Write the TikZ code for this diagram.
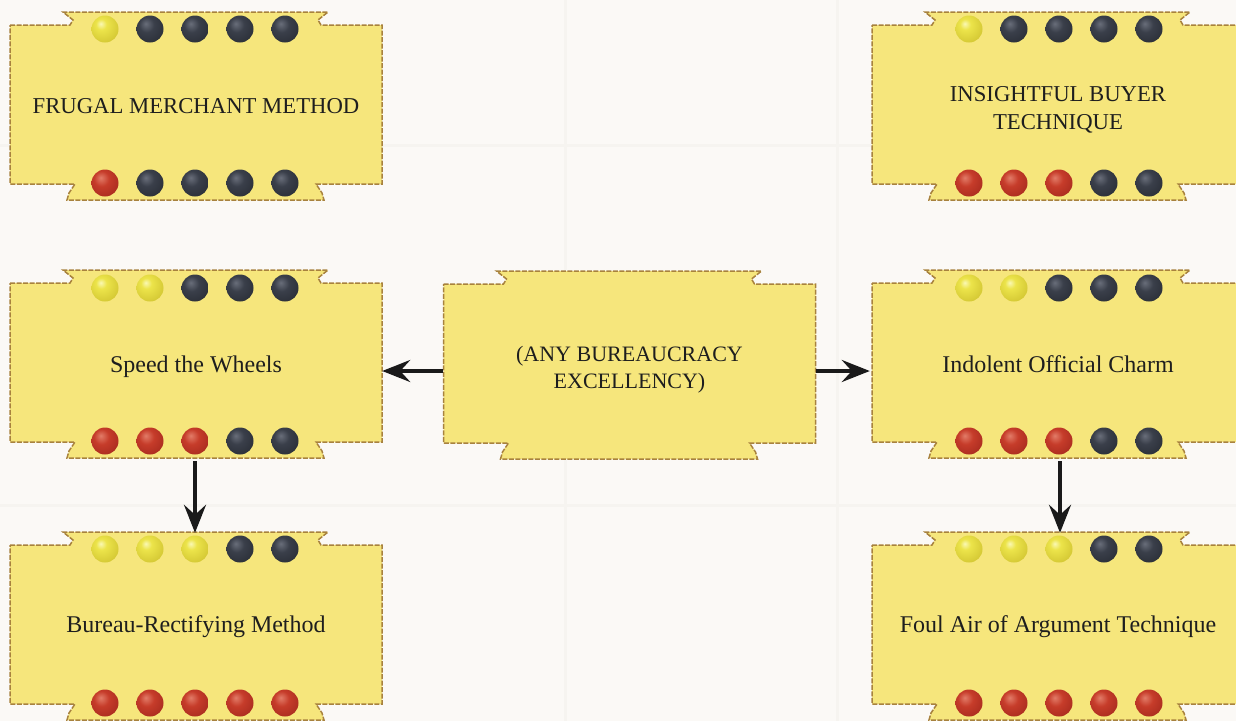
\documentclass[tikz,border=0pt]{standalone}
\usepackage{fontspec}
\setmainfont{Liberation Serif}
\usetikzlibrary{arrows.meta}
\definecolor{bg}{RGB}{251,249,246}
\definecolor{boxfill}{RGB}{246,230,124}
\definecolor{boxedge}{RGB}{168,130,62}
\definecolor{ink}{RGB}{30,30,30}
\definecolor{faint}{RGB}{246,244,240}
\definecolor{arrowink}{RGB}{26,26,26}
% bead colours
\definecolor{yHi}{RGB}{250,248,180}
\definecolor{yMid}{RGB}{236,228,74}
\definecolor{yLow}{RGB}{212,200,52}
\definecolor{yRim}{RGB}{132,122,30}
\definecolor{rHi}{RGB}{226,124,104}
\definecolor{rMid}{RGB}{198,60,42}
\definecolor{rLow}{RGB}{166,42,30}
\definecolor{rRim}{RGB}{92,22,16}
\definecolor{dHi}{RGB}{105,110,122}
\definecolor{dMid}{RGB}{58,63,74}
\definecolor{dLow}{RGB}{40,44,52}
\definecolor{dRim}{RGB}{18,20,24}

\pgfdeclareradialshading{beadY}{\pgfpoint{-8bp}{10bp}}{color(0bp)=(yHi); color(10bp)=(yMid); color(32bp)=(yLow); color(48bp)=(yRim); color(70bp)=(yRim)}
\pgfdeclareradialshading{beadR}{\pgfpoint{-8bp}{10bp}}{color(0bp)=(rHi); color(14bp)=(rMid); color(36bp)=(rLow); color(52bp)=(rRim); color(70bp)=(rRim)}
\pgfdeclareradialshading{beadD}{\pgfpoint{-8bp}{10bp}}{color(0bp)=(dHi); color(14bp)=(dMid); color(38bp)=(dLow); color(56bp)=(dRim); color(70bp)=(dRim)}

\tikzset{
  ribbonline/.style={fill=boxfill, draw=boxedge, line width=1.5pt, dash pattern=on 5pt off 1.5pt, line join=miter},
  capslbl/.style={text=ink, font=\fontsize{22.7}{28}\selectfont, align=center,
              minimum width=372pt, minimum height=188pt, inner sep=0pt},
  lbl/.style={capslbl, font=\fontsize{24}{28}\selectfont, text height=16pt, text depth=5pt},
  arr/.style={draw=arrowink, line width=4pt,
              -{Stealth[length=28pt,width=22pt,inset=10pt]}}
}

\newcommand{\ribbon}[2]{%
  \filldraw[ribbonline] ({#1-186},{#2}) -- ({#1-126},{#2}) -- ({#1-123},{#2-5})
   -- ({#1-133},{#2-13}) -- ({#1+132},{#2-13}) -- ({#1+122},{#2-5}) -- ({#1+125},{#2})
   -- ({#1+186},{#2}) -- ({#1+186},{#2+159}) -- ({#1+120},{#2+159}) -- ({#1+126},{#2+168})
   -- ({#1+128},{#2+175}) -- ({#1-129},{#2+175}) -- ({#1-127},{#2+168})
   -- ({#1-121},{#2+159}) -- ({#1-186},{#2+159}) -- cycle;}

\newcommand{\beadrow}[3]{%
  \foreach \c [count=\i] in {#3} {\shade[shading=\c] ({#1+(\i-3)*45},{#2}) circle[radius=13.5pt];}}

\begin{document}
\begin{tikzpicture}[x=1pt,y=-1pt]
\useasboundingbox (0,0) rectangle (1236,721);
\clip (0,0) rectangle (1236,721);
\fill[bg] (0,0) rectangle (1236,721);
\draw[faint, line width=3pt] (565,0) -- (565,721) (837,0) -- (837,721) (0,145) -- (1236,145) (0,505) -- (1236,505);

% boxes
\ribbon{196}{25}
\node[capslbl] (fm) at (196,106) {FRUGAL MERCHANT METHOD};
\beadrow{195}{29}{beadY,beadD,beadD,beadD,beadD}
\beadrow{195}{183}{beadR,beadD,beadD,beadD,beadD}

\ribbon{1058}{25}
\node[capslbl] (ib) at (1058,110) {INSIGHTFUL BUYER\\TECHNIQUE};
\beadrow{1059}{29}{beadY,beadD,beadD,beadD,beadD}
\beadrow{1059}{183}{beadR,beadR,beadR,beadD,beadD}

\ribbon{196}{283}
\node[lbl] (sw) at (196,367) {Speed the Wheels};
\beadrow{195}{288}{beadY,beadY,beadD,beadD,beadD}
\beadrow{195}{441}{beadR,beadR,beadR,beadD,beadD}

\ribbon{629.5}{284}
\node[capslbl, font=\fontsize{22}{27}\selectfont] (ab) at (629.5,370) {(ANY BUREAUCRACY\\EXCELLENCY)};

\ribbon{1058}{283}
\node[lbl] (io) at (1058,367) {Indolent Official Charm};
\beadrow{1059}{288}{beadY,beadY,beadD,beadD,beadD}
\beadrow{1059}{441}{beadR,beadR,beadR,beadD,beadD}

\ribbon{196}{545}
\node[lbl] (br) at (196,627) {Bureau-Rectifying Method};
\beadrow{195}{549}{beadY,beadY,beadY,beadD,beadD}
\beadrow{195}{703}{beadR,beadR,beadR,beadR,beadR}

\ribbon{1058}{545}
\node[lbl] (fa) at (1058,627) {Foul Air of Argument Technique};
\beadrow{1059}{549}{beadY,beadY,beadY,beadD,beadD}
\beadrow{1059}{703}{beadR,beadR,beadR,beadR,beadR}

% connectors
\draw[arr] ([yshift=-1pt]ab.west) -- ([yshift=-1pt]ab.west -| sw.east);
\draw[arr] ([yshift=-1pt]ab.east) -- ([yshift=-1pt,xshift=-2pt]ab.east -| io.west);
\draw[arr] ([xshift=-1pt]sw.south) -- ([xshift=-1pt]sw.south |- br.north);
\draw[arr] ([xshift=2pt]io.south) -- ([xshift=2pt]io.south |- fa.north);
\end{tikzpicture}
\end{document}
